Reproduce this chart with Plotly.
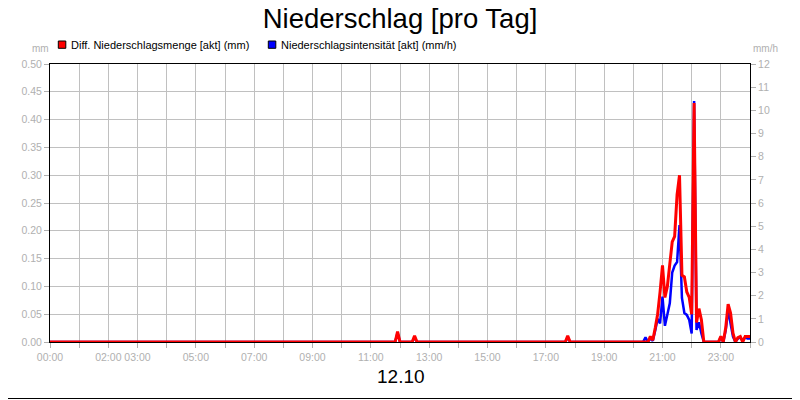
import pandas as pd
import plotly.graph_objects as go

# Niederschlag 12.10 - 5-Minuten-Werte, nur die nassen Zeitpunkte (Rest = 0)
wet_times = ["11:55", "12:30", "17:45",
             "20:25", "20:35", "20:40", "20:45", "20:50", "20:55",
             "21:00", "21:05", "21:10", "21:15", "21:20", "21:25", "21:30",
             "21:35", "21:40", "21:45", "21:50", "21:55",
             "22:00", "22:05", "22:10", "22:15", "22:20",
             "23:00", "23:10", "23:15", "23:20", "23:25",
             "23:35", "23:40", "23:45", "23:50", "23:55", "24:00"]
menge_mm = [0.0185, 0.011, 0.011,
            0.0, 0.01, 0.003, 0.025, 0.05, 0.09,
            0.138, 0.08, 0.10, 0.14, 0.18, 0.19, 0.265,
            0.30, 0.12, 0.117, 0.09, 0.08,
            0.05, 0.43, 0.035, 0.06, 0.04,
            0.01, 0.025, 0.068, 0.052, 0.016,
            0.008, 0.01, 0.0, 0.01, 0.01, 0.01]
intens_mmh = [0.40, 0.2, 0.2,
              0.2, 0.15, 0.05, 0.5, 1.0, 0.8,
              1.96, 0.7, 1.2, 1.67, 3.0, 3.3, 3.45,
              5.05, 1.9, 1.25, 1.17, 0.95,
              0.37, 10.4, 0.52, 0.85, 0.37,
              0.2, 0.5, 1.38, 0.8, 0.23,
              0.15, 0.2, 0.05, 0.2, 0.15, 0.15]

tick_text = ["00:00", "", "02:00", "03:00", "", "05:00", "", "07:00", "",
             "09:00", "", "11:00", "", "13:00", "", "15:00", "", "17:00", "",
             "19:00", "", "21:00", "", "23:00", ""]

day = pd.Timestamp("2024-10-12")
times = pd.date_range(day, periods=289, freq="5min")
menge = pd.Series(0.0, index=times)
intens = pd.Series(0.0, index=times)
for t, m, i in zip(wet_times, menge_mm, intens_mmh):
    h, mi = t.split(":")
    ts = day + pd.Timedelta(minutes=int(h) * 60 + int(mi))
    menge[ts] = m
    intens[ts] = i

GRAY = "#b0b0b0"
FONT = "Liberation Sans, Arial, sans-serif"

fig = go.Figure()
fig.add_trace(go.Scatter(x=times, y=intens.values, mode="lines", yaxis="y",
                         line=dict(color="#0000ff", width=2.5),
                         name="Niederschlagsintensität [akt] (mm/h)"))
fig.add_trace(go.Scatter(x=times, y=menge.values, mode="lines", yaxis="y2",
                         line=dict(color="#ff0000", width=3),
                         name="Diff. Niederschlagsmenge [akt] (mm)"))

hours = [day + pd.Timedelta(hours=h) for h in range(25)]

# the page adds an 8px body margin, so the figure is 792x392
fig.update_layout(
    width=792, height=392, autosize=False,
    margin=dict(l=42, r=50, t=56, b=58),
    paper_bgcolor="white", plot_bgcolor="white",
    showlegend=False,
    font=dict(family=FONT, color=GRAY, size=10.5),
    title=dict(text="Niederschlag [pro Tag]", x=0.5 - 4 / 792, xanchor="center",
               yref="container", y=1 - 10.5 / 392, yanchor="middle",
               font=dict(family=FONT, size=27.5, color="black")),
    xaxis=dict(type="date", range=[hours[0], hours[-1]],
               tickmode="array", tickvals=hours, ticktext=tick_text,
               ticks="outside", ticklen=5, tickcolor=GRAY,
               showgrid=True, gridcolor="#c0c0c0", gridwidth=1,
               showline=True, linecolor="black", linewidth=1, mirror=True,
               tickfont=dict(size=10.5, color=GRAY)),
    yaxis=dict(side="right", range=[0, 12], dtick=1,
               showgrid=False, zeroline=False,
               showline=True, linecolor="black", linewidth=1,
               ticks="outside", ticklen=5, tickcolor=GRAY,
               tickfont=dict(size=10.5, color=GRAY)),
    yaxis2=dict(overlaying="y", side="left", range=[0, 0.5], dtick=0.05,
                tickformat=".2f", showgrid=True, gridcolor="#c0c0c0",
                zeroline=False, showline=True, linecolor="black", linewidth=1,
                ticks="outside", ticklen=5, tickcolor=GRAY,
                tickfont=dict(size=10.5, color=GRAY)),
)

# Rahmen (rechts und unten sichtbar)
fig.add_shape(type="line", xref="paper", yref="paper",
              x0=748.5 / 700, x1=748.5 / 700, y0=-57.5 / 278, y1=1.3,
              line=dict(color="black", width=1))
fig.add_shape(type="line", xref="paper", yref="paper",
              x0=-0.1, x1=748.5 / 700, y0=-56.5 / 278, y1=-56.5 / 278,
              line=dict(color="black", width=1))

# Legende von Hand (Quadrate + Text)
for x0, col, txt in [(8.3, "#ff0000", "Diff. Niederschlagsmenge [akt] (mm)"),
                     (218.3, "#0000ff", "Niederschlagsintensität [akt] (mm/h)")]:
    fig.add_shape(type="rect", xref="paper", yref="paper",
                  x0=x0 / 700, x1=(x0 + 7.5) / 700,
                  y0=(342 - 48.3) / 278, y1=(342 - 41) / 278,
                  line=dict(color="black", width=1), fillcolor=col)
    fig.add_annotation(text=txt, xref="paper", yref="paper",
                       x=(x0 + 10.7) / 700, y=(342 - 44.5) / 278,
                       xanchor="left", yanchor="middle", showarrow=False,
                       font=dict(family=FONT, size=11, color="black"))

fig.add_annotation(text="mm", xref="paper", yref="paper",
                   x=-10 / 700, y=(342 - 49) / 278, showarrow=False,
                   xanchor="center", yanchor="middle",
                   font=dict(family=FONT, size=10, color=GRAY))
fig.add_annotation(text="mm/h", xref="paper", yref="paper",
                   x=715 / 700, y=(342 - 49) / 278, showarrow=False,
                   xanchor="center", yanchor="middle",
                   font=dict(family=FONT, size=10, color=GRAY))
fig.add_annotation(text="12.10", xref="paper", yref="paper",
                   x=351 / 700, y=(342 - 376.5) / 278, showarrow=False,
                   xanchor="center", yanchor="middle",
                   font=dict(family=FONT, size=19, color="black"))

fig.write_html("out.html")
